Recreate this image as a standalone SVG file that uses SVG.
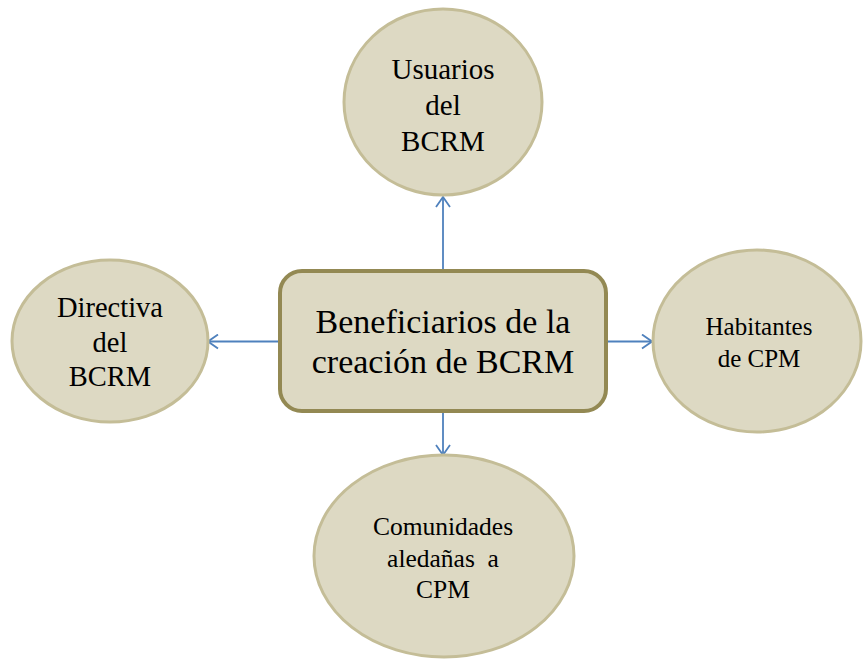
<svg xmlns="http://www.w3.org/2000/svg" width="863" height="659" viewBox="0 0 863 659">
<defs>
<marker id="arr" viewBox="0 0 12 16" refX="11" refY="8" markerWidth="12" markerHeight="16" markerUnits="userSpaceOnUse" orient="auto">
<path d="M1,1 L11,8 L1,15" fill="none" stroke="#4F81BD" stroke-width="1.8"/>
</marker>
</defs>
<style>
.ell{fill:#DDD9C3;stroke:#C4BD97;stroke-width:3}
.box{fill:#DDD9C3;stroke:#938953;stroke-width:4}
.t{font-family:"Liberation Serif","Times New Roman",serif;fill:#000;text-anchor:middle}
.c{stroke:#4F81BD;stroke-width:1.8;fill:none;marker-end:url(#arr)}
</style>
<rect x="0" y="0" width="863" height="659" fill="#FFFFFF"/>
<g id="connectors">
<line class="c" x1="443" y1="270" x2="443" y2="197"/>
<line class="c" x1="279" y1="341.5" x2="208" y2="341.5"/>
<line class="c" x1="607" y1="341.5" x2="652" y2="341.5"/>
<line class="c" x1="443" y1="412" x2="443" y2="455"/>
</g>
<g id="center">
<rect class="box" x="280" y="271" width="326" height="140" rx="22" ry="22"/>
<text class="t" font-size="34" x="443" y="333">Beneficiarios de la</text>
<text class="t" font-size="34" x="443" y="373">creación de BCRM</text>
</g>
<g id="usuarios">
<ellipse class="ell" cx="443" cy="102" rx="99" ry="93"/>
<text class="t" font-size="29" x="443" y="79">Usuarios</text>
<text class="t" font-size="29" x="443" y="115">del</text>
<text class="t" font-size="29" x="443" y="151">BCRM</text>
</g>
<g id="directiva">
<ellipse class="ell" cx="110" cy="341" rx="98" ry="81"/>
<text class="t" font-size="28.5" x="110" y="317">Directiva</text>
<text class="t" font-size="28.5" x="110" y="352">del</text>
<text class="t" font-size="28.5" x="110" y="386">BCRM</text>
</g>
<g id="habitantes">
<ellipse class="ell" cx="757" cy="341" rx="104" ry="91"/>
<text class="t" font-size="25" x="759" y="335">Habitantes</text>
<text class="t" font-size="25" x="759" y="367">de CPM</text>
</g>
<g id="comunidades">
<ellipse class="ell" cx="444" cy="556" rx="130" ry="101"/>
<text class="t" font-size="25.5" x="443" y="535">Comunidades</text>
<text class="t" font-size="25.5" x="443" y="567" xml:space="preserve">aledañas  a</text>
<text class="t" font-size="25.5" x="443" y="598">CPM</text>
</g>
</svg>
